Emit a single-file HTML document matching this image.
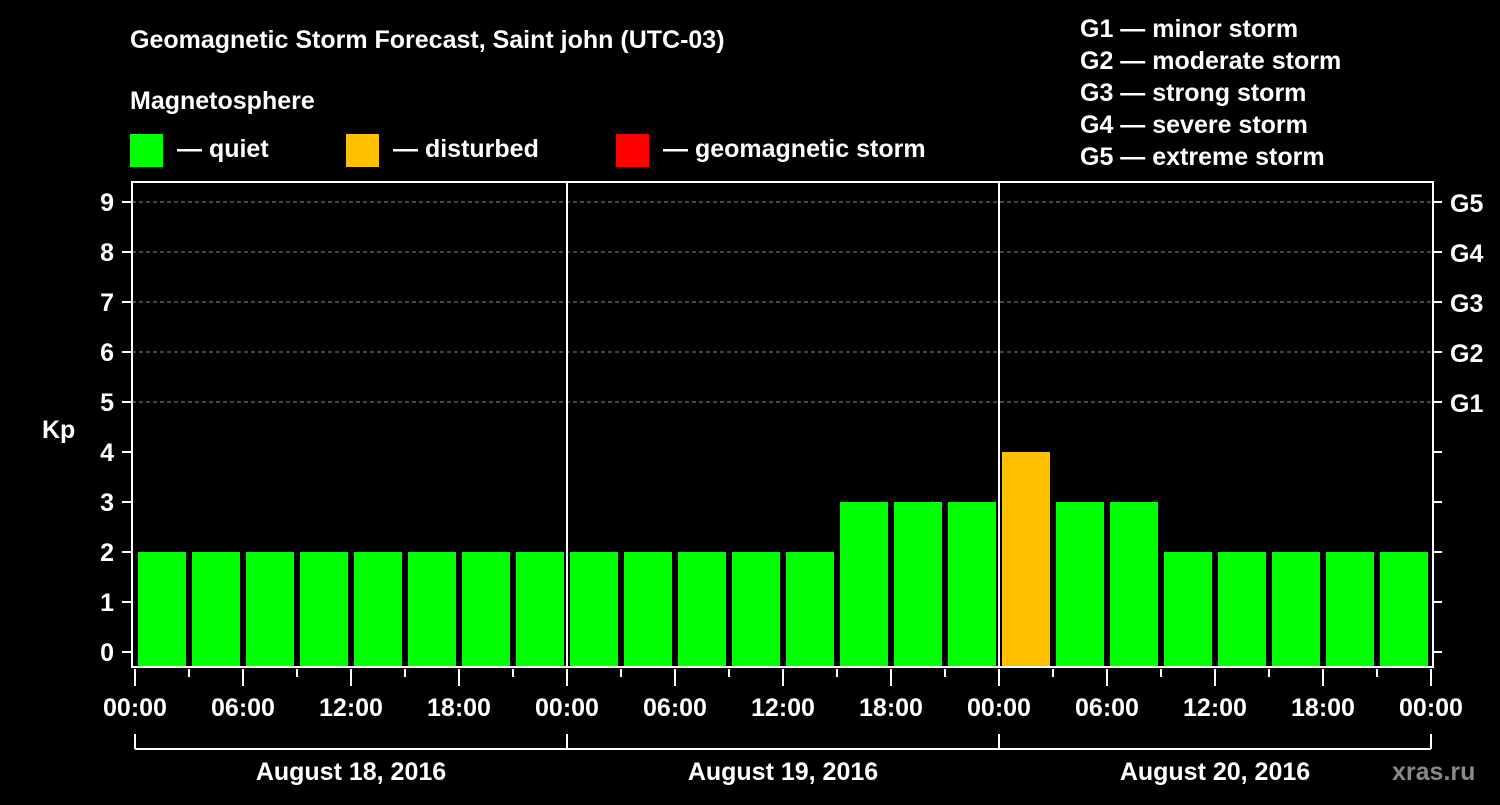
<!DOCTYPE html>
<html><head><meta charset="utf-8"><style>
body{margin:0;background:#000;width:1500px;height:800px;overflow:hidden}
svg text{font-family:"Liberation Sans",Arial,sans-serif;font-weight:bold;fill:#fff}
</style></head><body>
<svg id="chart" width="1500" height="800" viewBox="0 0 1500 800" xmlns="http://www.w3.org/2000/svg">
<rect width="1500" height="800" fill="#000"/>
<text x="130" y="48" font-size="25">Geomagnetic Storm Forecast, Saint john (UTC-03)</text>
<text x="130" y="109" font-size="25">Magnetosphere</text>
<g>
<rect x="130" y="134" width="33" height="33" fill="#00ff00"/>
<text x="177" y="157" font-size="25">— quiet</text>
<rect x="346" y="134" width="33" height="33" fill="#ffc000"/>
<text x="393" y="157" font-size="25">— disturbed</text>
<rect x="616" y="134" width="33" height="33" fill="#ff0000"/>
<text x="663" y="157" font-size="25">— geomagnetic storm</text>
</g>
<g font-size="25">
<text x="1080" y="37">G1 — minor storm</text>
<text x="1080" y="69">G2 — moderate storm</text>
<text x="1080" y="101">G3 — strong storm</text>
<text x="1080" y="133">G4 — severe storm</text>
<text x="1080" y="165">G5 — extreme storm</text>
</g>
<text x="42" y="438" font-size="25">Kp</text>
<text x="1392" y="780" font-size="25" style="fill:#888">xras.ru</text>
<g id="grid"></g><g id="bars"></g><g id="axes"></g>
</svg>
<script>
const kpValues=[2,2,2,2,2,2,2,2, 2,2,2,2,2,3,3,3, 4,3,3,2,2,2,2,2];
const dayLabels=["August 18, 2016","August 19, 2016","August 20, 2016"];
const hourLabels=["00:00","06:00","12:00","18:00"];
const gLabels=["G1","G2","G3","G4","G5"];
const yTicks=[0,1,2,3,4,5,6,7,8,9];

const NS="http://www.w3.org/2000/svg";
const X0=135,SLOT=54,DAY=432,PL=132,PR=1433,PT=182,PB=667;
const y=v=>652-v*50;
const x=i=>X0+i*SLOT;
function mk(tag,attrs,parent,txt){const e=document.createElementNS(NS,tag);for(const k in attrs)e.setAttribute(k,attrs[k]);if(txt!==undefined)e.textContent=txt;parent.appendChild(e);return e;}
const grid=document.getElementById('grid'),bars=document.getElementById('bars'),axes=document.getElementById('axes');
yTicks.forEach(v=>{
  if(v>=5){const l=mk('line',{x1:PL,x2:PR,y1:y(v),y2:y(v),stroke:'#888','stroke-dasharray':'4,3','stroke-width':1},grid);
  
  }
  const t=mk('line',{x1:122,x2:PL,y1:y(v),y2:y(v),stroke:'#fff','stroke-width':2},axes);
  
  
  const lb=mk('text',{x:114,y:y(v)+9,'font-size':25,'text-anchor':'end'},axes,String(v));
  
  
  const rt=mk('line',{x1:PR,x2:1442,y1:y(v),y2:y(v),stroke:'#fff','stroke-width':2},axes);
  
  
  if(v>=5){const g=mk('text',{x:1450,y:y(v)+10,'font-size':25},axes,gLabels[v-5]);
  
  }
});
kpValues.forEach((v,i)=>{
  const col=v>=5?'#ff0000':(v>=4?'#ffc000':'#00ff00');
  const r=mk('rect',{x:x(i)+3,y:y(v),width:48,height:PB-y(v),fill:col},bars);
  
  
});
const fr=mk('rect',{x:PL,y:PT,width:PR-PL,height:PB-PT,fill:'none',stroke:'#fff','stroke-width':2},axes);


for(let d=1;d<dayLabels.length;d++){
  const l=mk('line',{x1:X0+d*DAY,x2:X0+d*DAY,y1:PT,y2:PB,stroke:'#fff','stroke-width':2},axes);
  
  
}
for(let i=0;i<=kpValues.length;i++){
  const major=i%2===0;
  const t=mk('line',{x1:x(i),x2:x(i),y1:PB+2,y2:major?686:677,stroke:'#fff','stroke-width':2},axes);
  
  
  if(major){const lb=mk('text',{x:x(i),y:716,'font-size':25,'text-anchor':'middle'},axes,hourLabels[(i/2)%4]);
  
  }
}
const br=mk('line',{x1:X0,x2:X0+3*DAY,y1:749,y2:749,stroke:'#fff','stroke-width':2},axes);


for(let d=0;d<=dayLabels.length;d++){
  const l=mk('line',{x1:X0+d*DAY,x2:X0+d*DAY,y1:734,y2:749,stroke:'#fff','stroke-width':2},axes);
  
  
}
dayLabels.forEach((s,d)=>{
  const t=mk('text',{x:X0+d*DAY+DAY/2,y:780,'font-size':25,'text-anchor':'middle'},axes,s);
  
  
});
</script>
</body></html>
